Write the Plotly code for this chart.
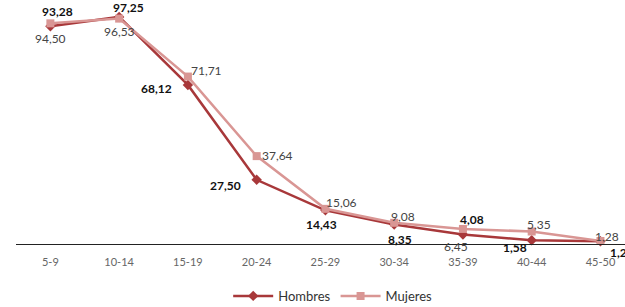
import plotly.graph_objects as go

categories = ["5-9", "10-14", "15-19", "20-24", "25-29", "30-34", "35-39", "40-44", "45-50"]
hombres = [93.28, 97.25, 68.12, 27.50, 14.43, 8.35, 4.08, 1.58, 1.20]
mujeres = [94.50, 96.53, 71.71, 37.64, 15.06, 9.08, 6.45, 5.35, 1.28]

def fmt(v):
    return f"{v:.2f}".replace(".", ",")

# label offsets (pixels: right, up) relative to each point
h_shift = [(7, 15), (9, 9), (-31, -4), (-31, -6), (-4, -14), (6, -15), (9, 15), (-17, -7), (22, -11)]
m_shift = [(0, -15), (0, -13), (19, 6), (21, 1), (16, 6), (9, 6), (-7, -18), (7, 7), (7, 5)]

H_COLOR = "#A8383A"
M_COLOR = "#D99694"

fig = go.Figure()
fig.add_trace(go.Scatter(
    x=categories, y=hombres, name="Hombres", mode="lines+markers",
    line=dict(color=H_COLOR, width=2.5),
    marker=dict(symbol="diamond", size=8, color=H_COLOR),
    cliponaxis=False,
))
fig.add_trace(go.Scatter(
    x=categories, y=mujeres, name="Mujeres", mode="lines+markers",
    line=dict(color=M_COLOR, width=2.5),
    marker=dict(symbol="square", size=8, color=M_COLOR),
    cliponaxis=False,
))

for cat, v, (dx, dy) in zip(categories, hombres, h_shift):
    fig.add_annotation(x=cat, y=v, text=fmt(v), showarrow=False, xshift=dx, yshift=dy,
                       font=dict(family="Lato", size=12, color="#111111", weight="bold"))
for cat, v, (dx, dy) in zip(categories, mujeres, m_shift):
    fig.add_annotation(x=cat, y=v, text=fmt(v), showarrow=False, xshift=dx, yshift=dy,
                       font=dict(family="Lato", size=12, color="#444444"))

fig.update_layout(
    width=625, height=307,
    margin=dict(l=16, r=0, t=0, b=63, autoexpand=False),
    paper_bgcolor="white", plot_bgcolor="white",
    font=dict(family="Lato", size=10, color="#555555"),
    showlegend=True,
    legend=dict(orientation="h", x=0.52, xanchor="center", y=-0.213, yanchor="middle",
                itemwidth=40, font=dict(size=13, color="#333333")),
    xaxis=dict(range=[-0.5, 8.357], showgrid=False, showline=True, linecolor="#222222",
               linewidth=1, ticks="", automargin=False, ticklabelstandoff=8,
               tickfont=dict(size=11, color="#666666")),
    yaxis=dict(range=[0, 104.5], showgrid=False, showticklabels=False, zeroline=False,
               showline=False, automargin=False),
)
fig.write_html("out.html", config={"displayModeBar": False},
               post_script="document.body.style.margin='0';document.body.style.overflow='hidden';")
